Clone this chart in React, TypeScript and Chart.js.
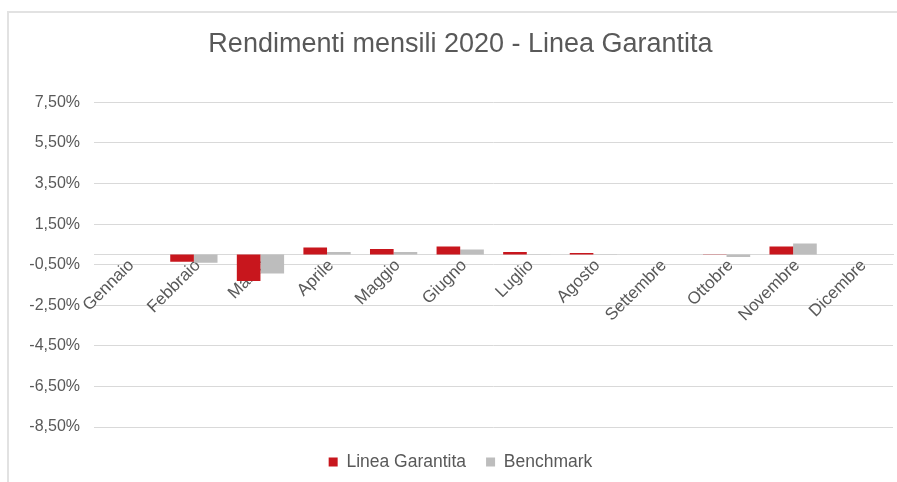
import React, { useEffect, useRef } from "react";
import { Chart, registerables } from "chart.js";

Chart.register(...registerables);

const categories = [
  "Gennaio", "Febbraio", "Marzo", "Aprile", "Maggio", "Giugno",
  "Luglio", "Agosto", "Settembre", "Ottobre", "Novembre", "Dicembre",
];
const lineaGarantita = [null, -0.35, -1.3, 0.35, 0.27, 0.4, 0.12, 0.08, null, 0.01, 0.4, null];
const benchmark = [null, -0.4, -0.93, 0.12, 0.12, 0.25, 0.01, 0.01, null, -0.12, 0.55, null];
const yMin = -8.5;
const yMax = 7.5;
const yStep = 2;
const titleText = "Rendimenti mensili 2020 - Linea Garantita";

const FONT = "'Liberation Sans', Arial, sans-serif";
const TEXT = "#595959";

const framePlugin = {
  id: "frame",
  beforeDraw(chart: any) {
    const { ctx, width, height } = chart;
    ctx.save();
    ctx.fillStyle = "#ffffff";
    ctx.fillRect(0, 0, width, height);
    ctx.strokeStyle = "#e2e2e2";
    ctx.lineWidth = 2;
    ctx.beginPath();
    ctx.moveTo(8, height);
    ctx.lineTo(8, 12);
    ctx.lineTo(width, 12);
    ctx.stroke();
    ctx.restore();
  },
};

export default function App() {
  const ref = useRef<HTMLCanvasElement | null>(null);
  useEffect(() => {
    if (!ref.current) return;
    const chart = new Chart(ref.current, {
      type: "bar",
      data: {
        labels: categories,
        datasets: [
          {
            label: "Linea Garantita",
            data: lineaGarantita,
            backgroundColor: "#c8161d",
            borderWidth: 0,
          },
          {
            label: "Benchmark",
            data: benchmark,
            backgroundColor: "#bdbdbd",
            borderWidth: 0,
          },
        ],
      },
      options: {
        animation: false,
        responsive: false,
        maintainAspectRatio: false,
        layout: { padding: { left: 28, right: 4, top: 0, bottom: 1.3 } },
        datasets: { bar: { categoryPercentage: 0.71, barPercentage: 1.0 } },
        plugins: {
          title: {
            display: true,
            text: titleText,
            color: TEXT,
            font: { family: FONT, size: 27, weight: "normal" },
            padding: { top: 28, bottom: 42 },
          },
          legend: {
            display: true,
            position: "bottom",
            title: {
              display: true,
              text: " ",
              font: { family: FONT, size: 1 },
              padding: { top: 5, bottom: 0 },
            },
            labels: {
              color: TEXT,
              font: { family: FONT, size: 17.5 },
              boxWidth: 9,
              boxHeight: 9,
              padding: 20,
            },
          },
          tooltip: { enabled: false },
        },
        scales: {
          x: {
            position: { y: 0 } as any,
            grid: { display: false, drawOnChartArea: false, drawTicks: false },
            border: { display: true, color: "#d9d9d9", width: 1 },
            ticks: {
              color: TEXT,
              font: { family: FONT, size: 17 },
              autoSkip: false,
              minRotation: 45,
              maxRotation: 45,
              padding: 1,
              labelOffset: 4,
            },
          },
          y: {
            min: yMin,
            max: yMax,
            afterFit(scale: any) {
              scale.width = 66;
            },
            grid: { color: "#d9d9d9", drawTicks: false, lineWidth: 1 },
            border: { display: false },
            ticks: {
              stepSize: yStep,
              color: TEXT,
              padding: 14,
              font: { family: FONT, size: 16 },
              callback: (v: any) => Number(v).toFixed(2).replace(".", ",") + "%",
            },
          },
        },
      },
      plugins: [framePlugin],
    });
    return () => chart.destroy();
  }, []);
  return (
    <div style={{ position: "absolute", left: 0, top: 0, width: 897, height: 482 }}>
      <canvas ref={ref} width={897} height={482} style={{ width: 897, height: 482 }} />
    </div>
  );
}
